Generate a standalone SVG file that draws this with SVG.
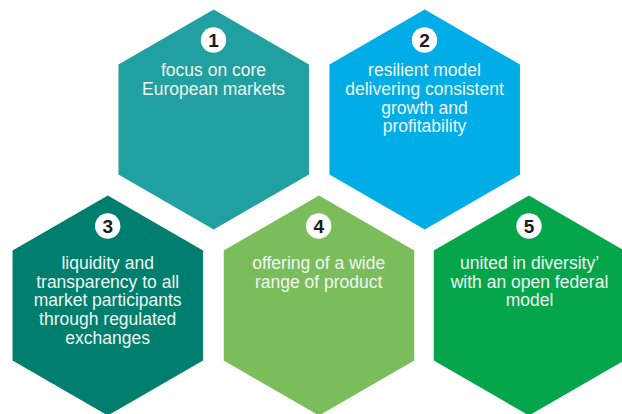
<svg xmlns="http://www.w3.org/2000/svg" xmlns:xlink="http://www.w3.org/1999/xlink" width="622" height="414" viewBox="0 0 622 414">
<style>
.lbl{font-family:"Liberation Sans","DejaVu Sans",sans-serif;font-size:17.5px;fill:#eef7f4;text-anchor:middle}
.num{font-family:"Liberation Sans","DejaVu Sans",sans-serif;font-size:19px;font-weight:bold;fill:#1a1a1a;text-anchor:middle}
.badge{fill:#ffffff}
</style>
<defs>
<polygon id="hex" points="0,-110 95.26,-55 95.26,55 0,110 -95.26,55 -95.26,-55"/>
</defs>
<rect width="622" height="414" fill="#ffffff"/>
<g id="node1">
<use xlink:href="#hex" transform="translate(213.7,119.5)" fill="#20a0a0"/>
<circle class="badge" cx="213.5" cy="40" r="12.7"/>
<text class="num" x="213.5" y="46.8">1</text>
<text class="lbl" x="213.5" y="75.7">focus on core</text>
<text class="lbl" x="213.5" y="95.3">European markets</text>
</g>
<g id="node2">
<use xlink:href="#hex" transform="translate(424.7,119.5)" fill="#00ade6"/>
<circle class="badge" cx="424.5" cy="40" r="12.7"/>
<text class="num" x="424.5" y="46.8">2</text>
<text class="lbl" x="424.5" y="76">resilient model</text>
<text class="lbl" x="424.5" y="95">delivering consistent</text>
<text class="lbl" x="424.5" y="113.5">growth and</text>
<text class="lbl" x="424.5" y="132">profitability</text>
</g>
<g id="node3">
<use xlink:href="#hex" transform="translate(107.8,305.5)" fill="#007e6e"/>
<circle class="badge" cx="107.7" cy="226" r="12.7"/>
<text class="num" x="107.7" y="232.8">3</text>
<text class="lbl" x="107.7" y="269">liquidity and</text>
<text class="lbl" x="107.7" y="287.7">transparency to all</text>
<text class="lbl" x="107.7" y="306.4">market participants</text>
<text class="lbl" x="107.7" y="325">through regulated</text>
<text class="lbl" x="107.7" y="343.5">exchanges</text>
</g>
<g id="node4">
<use xlink:href="#hex" transform="translate(319,305.5)" fill="#7bbd5a"/>
<circle class="badge" cx="318.7" cy="226" r="12.7"/>
<text class="num" x="318.7" y="232.8">4</text>
<text class="lbl" x="318.7" y="269">offering of a wide</text>
<text class="lbl" x="318.7" y="287.7">range of product</text>
</g>
<g id="node5">
<use xlink:href="#hex" transform="translate(529,305.5)" fill="#05a64b"/>
<circle class="badge" cx="529" cy="226" r="12.7"/>
<text class="num" x="529" y="232.8">5</text>
<text class="lbl" x="529.5" y="269">united in diversity’</text>
<text class="lbl" x="529.5" y="287.7">with an open federal</text>
<text class="lbl" x="529.5" y="306.4">model</text>
</g>
</svg>
